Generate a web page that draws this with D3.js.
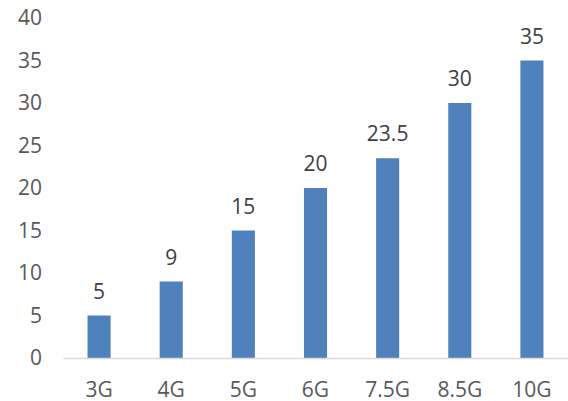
<!DOCTYPE html>
<html>
<head>
<meta charset="utf-8">
<script src="https://cdn.jsdelivr.net/npm/d3@7"></script>
<style>
  body { margin: 0; background: #fff; }
  svg { display: block; }
  text { font-family: "Open Sans", sans-serif; }
</style>
</head>
<body>
<div id="chart"></div>
<script>
// chart data
var categories = ["3G", "4G", "5G", "6G", "7.5G", "8.5G", "10G"];
var values = [5, 9, 15, 20, 23.5, 30, 35];
var yTicks = [0, 5, 10, 15, 20, 25, 30, 35, 40];

var w = 568,
  h = 401;

var svg = d3
  .select("#chart")
  .append("svg")
  .attr("width", w)
  .attr("height", h);

var x = d3
  .scaleBand()
  .domain(categories)
  .range([63, 568])
  .paddingInner(0.68)
  .paddingOuter(0.34);

var y = d3.scaleLinear().domain([0, 40]).range([358, 18]);

// y axis labels (no line, no ticks)
var yAxis = svg
  .append("g")
  .attr("transform", "translate(42,0)")
  .call(d3.axisLeft(y).tickValues(yTicks).tickSize(0).tickPadding(0));
yAxis.select(".domain").remove();
yAxis
  .selectAll("text")
  .attr("fill", "#595959")
  .style("font-size", "21px")
  .style("font-family", "'Open Sans', sans-serif");

// bars
svg
  .append("g")
  .selectAll("rect")
  .data(values)
  .enter()
  .append("rect")
  .attr("x", function(d, i) {
    return x(categories[i]);
  })
  .attr("y", function(d) {
    return y(d);
  })
  .attr("width", x.bandwidth())
  .attr("height", function(d) {
    return y(0) - y(d);
  })
  .attr("fill", "#4f81bd");

// x axis baseline + labels
var xAxis = svg
  .append("g")
  .attr("transform", "translate(0," + y(0) + ")")
  .call(d3.axisBottom(x).tickSize(0).tickPadding(24));
xAxis
  .select(".domain")
  .attr("stroke", "#d9d9d9")
  .attr("stroke-width", 1.5);
xAxis
  .selectAll("text")
  .attr("fill", "#595959")
  .style("font-size", "21px")
  .style("font-family", "'Open Sans', sans-serif");

// data labels
svg
  .append("g")
  .selectAll("text")
  .data(values)
  .enter()
  .append("text")
  .attr("x", function(d, i) {
    return x(categories[i]) + x.bandwidth() / 2;
  })
  .attr("y", function(d) {
    return y(d) - 17;
  })
  .attr("text-anchor", "middle")
  .attr("fill", "#404040")
  .style("font-size", "21px")
  .text(function(d) {
    return d;
  });
</script>
</body>
</html>
